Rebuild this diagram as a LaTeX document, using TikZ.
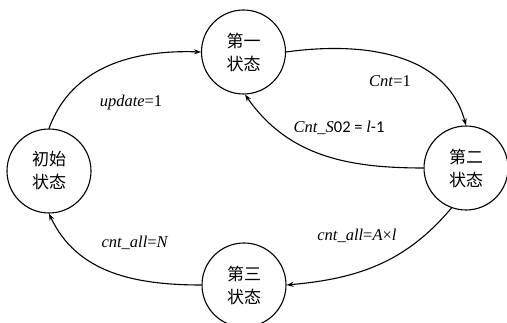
\documentclass[tikz,border=0pt]{standalone}
\usepackage{fontspec}
\setmainfont{Liberation Serif}
\newfontfamily\cjk{Noto Sans CJK SC}
\newfontfamily\calib{Carlito}
\usetikzlibrary{arrows.meta}
\begin{document}
\begin{tikzpicture}[x=1pt,y=1pt,
  state/.style={circle,draw,line width=1.1pt,minimum size=84pt,inner sep=0pt,
    align=center,font=\cjk\fontsize{17}{23}\selectfont},
  trans/.style={line width=1.1pt,-{Stealth[length=7pt,width=5pt]}},
  lbl/.style={font=\fontsize{16.5}{20}\selectfont}]
\useasboundingbox (0,0) rectangle (507,322);
\clip (0,0) rectangle (507,322);
% states
\node[state] (init) at (49,151) {初始\\状态};
\node[state] (s1) at (243.5,270) {第一\\状态};
\node[state] (s2) at (466,154) {第二\\状态};
\node[state] (s3) at (244,37) {第三\\状态};
% transitions
\draw[trans] (init.north) to[out=70,in=178] (s1.west);
\draw[trans] (s1.east) to[out=8,in=105] (s2.north);
\draw[trans] (s2.west) to[out=180,in=-55] (s1.-88);
\draw[trans] (s2.-110) to[out=230,in=5] (s3.east);
\draw[trans] (s3.west) to[out=180,in=-65] (init.south);
% conditions
\node[lbl] (l1) at (131,219) {\textit{update}=1};
\node[lbl] (l2) at (390,241) {\textit{Cnt}=1};
\node[lbl] (l3) at (339,194) {\textit{Cnt\_S}{\calib 02 = }\textit{l}{\calib -1}};
\node[lbl] (l4) at (357,86) {\textit{cnt\_all}=\textit{A}×\textit{l}};
\node[lbl] (l5) at (135,79) {\textit{cnt\_all}=\textit{N}};
\end{tikzpicture}
\end{document}
